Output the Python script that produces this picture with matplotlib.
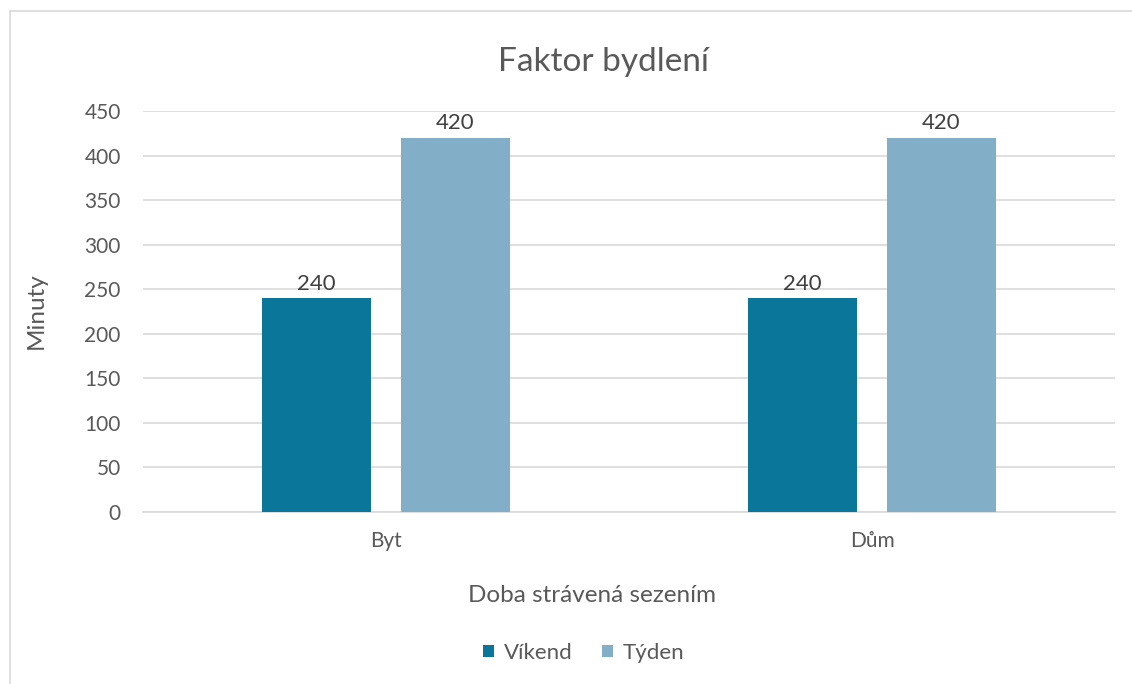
import numpy as np
import matplotlib.pyplot as plt
from matplotlib.lines import Line2D

# Data
categories = ["Byt", "Dům"]
series_names = ["Víkend", "Týden"]
vikend = [240, 240]
tyden = [420, 420]
yticks = [0, 50, 100, 150, 200, 250, 300, 350, 400, 450]

colors = ["#0A769A", "#82AEC8"]
text_color = "#595959"

plt.rcParams['font.family'] = ['Lato', 'DejaVu Sans']

fig = plt.figure(figsize=(11.32, 6.84), dpi=100)
ax = fig.add_axes([143 / 1132, 1 - 512 / 684, 972 / 1132, 401 / 684])

x = np.arange(len(categories))
w = 0.224
gap = 0.062
off = (w + gap) / 2

b1 = ax.bar(x - off, vikend, w, color=colors[0], label=series_names[0], zorder=3)
b2 = ax.bar(x + off, tyden, w, color=colors[1], label=series_names[1], zorder=3)

for bars in (b1, b2):
    for r in bars:
        ax.text(r.get_x() + r.get_width() / 2, r.get_height() + 5, f"{int(r.get_height())}",
                ha="center", va="bottom", fontsize=16, color="#404040")

ax.set_xlim(-0.5, 1.5)
ax.set_ylim(0, 450)
ax.set_yticks(yticks)
ax.set_xticks(x)
ax.set_xticklabels(categories)
ax.tick_params(axis="both", length=0, labelsize=15, labelcolor=text_color)
ax.tick_params(axis="x", pad=14)
ax.tick_params(axis="y", pad=16)
ax.yaxis.grid(True, color="#D9D9D9", linewidth=1.2, zorder=0)
for s in ["top", "right", "left"]:
    ax.spines[s].set_visible(False)
ax.spines["bottom"].set_color("#D9D9D9")
ax.spines["bottom"].set_linewidth(1.2)

fig.text(603 / 1132, 1 - 62 / 684, "Faktor bydlení", ha="center", va="center",
         fontsize=24, color=text_color)
fig.text(592 / 1132, 1 - 595 / 684, "Doba strávená sezením", ha="center", va="center",
         fontsize=17.5, color=text_color)
fig.text(36 / 1132, 1 - 311 / 684, "Minuty", ha="center", va="center", rotation=90,
         fontsize=17.5, color=text_color)

leg = fig.legend(handles=[b1, b2], labels=series_names, loc="center",
                 bbox_to_anchor=(584 / 1132, 1 - 653 / 684), ncol=2, frameon=False,
                 fontsize=16, handlelength=0.5, handleheight=0.5, handletextpad=0.45,
                 columnspacing=1.3)
for t in leg.get_texts():
    t.set_color(text_color)

# light chart border (top and left visible)
fig.add_artist(Line2D([10 / 1132, 1], [1 - 11 / 684, 1 - 11 / 684], color="#D9D9D9", lw=1.2))
fig.add_artist(Line2D([10 / 1132, 10 / 1132], [0, 1 - 11 / 684], color="#D9D9D9", lw=1.2))

fig.savefig("out.png", dpi=100)
